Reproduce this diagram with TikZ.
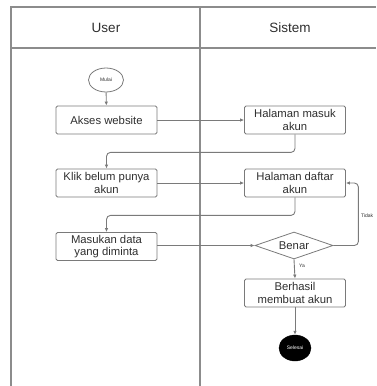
\documentclass[tikz,border=0pt]{standalone}
\usepackage{fontspec}
\setmainfont{Liberation Sans}
\usetikzlibrary{shapes.geometric,arrows.meta}
\definecolor{lanegray}{HTML}{8C8C8C}
\definecolor{linegray}{HTML}{7A7A7A}
\definecolor{txtgray}{HTML}{2E2E2E}
\tikzset{
  lane/.style={draw=lanegray, line width=1.1pt},
  box/.style={draw=linegray, line width=0.8pt, rounded corners=1.5pt, rectangle, minimum width=101pt, minimum height=28pt, align=center, text=txtgray, font=\fontsize{11.3}{12.3}\selectfont, inner sep=1pt},
  decision/.style={draw=linegray, line width=0.8pt, diamond, aspect=2.9, minimum width=78pt, minimum height=27pt, inner sep=0pt, text=txtgray, font=\fontsize{11.3}{12}\selectfont},
  startnode/.style={draw=linegray, line width=0.8pt, ellipse, minimum width=35pt, minimum height=24pt, inner sep=0pt, font=\fontsize{5}{6}\selectfont, text=txtgray},
  endnode/.style={draw=black, fill=black, ellipse, minimum width=32pt, minimum height=26pt, inner sep=0pt, font=\fontsize{5}{6}\selectfont, text=white},
  flow/.style={draw=linegray, line width=0.9pt, rounded corners=4pt, -{Latex[length=4pt,width=3.5pt]}},
  small/.style={font=\fontsize{5}{6}\selectfont, text=txtgray, inner sep=0pt},
  header/.style={font=\fontsize{13.5}{14}\selectfont, text=txtgray}
}
\begin{document}
\begin{tikzpicture}[x=1pt,y=-1pt]
\useasboundingbox (0,0) rectangle (376,386);
% swimlanes
\draw[lane] (11,386) -- (11,7) -- (376,7);
\draw[lane] (11,48) -- (376,48);
\draw[lane] (200,7) -- (200,386);
\node[header] (huser) at (106,28) {User};
\node[header] (hsis) at (290,28) {Sistem};
% nodes
\node[startnode] (mulai) at (106,80) {Mulai};
\node[box] (akses) at (106.5,120) {Akses website};
\node[box] (hm) at (295,120) {Halaman masuk\\akun};
\node[box] (klik) at (106.5,183) {Klik belum punya\\akun};
\node[box] (hd) at (295,183) {Halaman daftar\\akun};
\node[box] (masuk) at (106.5,246.5) {Masukan data\\yang diminta};
\node[decision] (benar) at (294,245.5) {Benar};
\node[box] (berhasil) at (295,293) {Berhasil\\membuat akun};
\node[endnode] (selesai) at (295,348) {Selesai};
% connectors
\draw[flow] (mulai) -- (akses);
\draw[flow] (akses) -- (hm);
\draw[flow] (hm.south) -- ++(0,18) -| (klik.north);
\draw[flow] (klik) -- (hd);
\draw[flow] (hd.south) -- ++(0,18) -| (masuk.north);
\draw[flow] (masuk.east |- benar.west) -- (benar.west);
\draw[flow] (benar.east) -- ++(25,0) |- (hd.east);
\draw[flow] (benar.south) -- (berhasil.north);
\draw[flow] (berhasil) -- (selesai);
\node[small, anchor=west] (tidak) at (361,216) {Tidak};
\node[small, anchor=west] (ya) at (299,266) {Ya};
\end{tikzpicture}
\end{document}
